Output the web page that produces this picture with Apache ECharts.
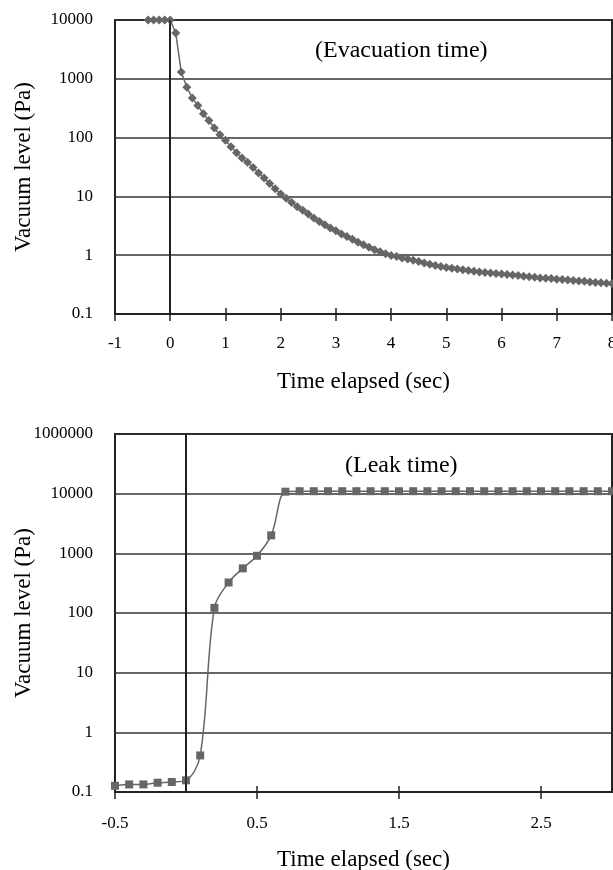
<!DOCTYPE html>
<html>
<head>
<meta charset="utf-8">
<script src="https://cdn.jsdelivr.net/npm/echarts@6/dist/echarts.min.js"></script>
<style>
html,body{margin:0;padding:0;background:#fff;}
#chart{width:613px;height:870px;}
</style>
</head>
<body>
<div id="chart"></div>
<script>
// ---- Data: evacuation (top chart) ----
const topTime = [-0.4,-0.3,-0.2,-0.1,0,
  0.1,0.2,0.3,0.4,0.5,0.6,0.7,0.8,0.9,1.0,
  1.1,1.2,1.3,1.4,1.5,1.6,1.7,1.8,1.9,2.0,
  2.1,2.2,2.3,2.4,2.5,2.6,2.7,2.8,2.9,3.0,
  3.1,3.2,3.3,3.4,3.5,3.6,3.7,3.8,3.9,4.0,
  4.1,4.2,4.3,4.4,4.5,4.6,4.7,4.8,4.9,5.0,
  5.1,5.2,5.3,5.4,5.5,5.6,5.7,5.8,5.9,6.0,
  6.1,6.2,6.3,6.4,6.5,6.6,6.7,6.8,6.9,7.0,
  7.1,7.2,7.3,7.4,7.5,7.6,7.7,7.8,7.9,8.0];
const topPressure = [10000,10000,10000,10000,10000,
  6000,1300,720,470,350,255,195,145,112,90,
  70,55,45,38,31,25,20.5,16.5,13.5,11.0,
  9.3,7.9,6.7,5.8,5.0,4.3,3.75,3.3,2.9,2.6,
  2.3,2.07,1.86,1.66,1.50,1.36,1.24,1.14,1.06,0.99,
  0.95,0.90,0.86,0.82,0.78,0.74,0.70,0.67,0.645,0.62,
  0.60,0.58,0.565,0.55,0.535,0.52,0.51,0.50,0.49,0.48,
  0.47,0.46,0.45,0.44,0.43,0.42,0.41,0.405,0.40,0.39,
  0.385,0.38,0.37,0.365,0.36,0.35,0.345,0.34,0.335,0.33];

// ---- Data: leak (bottom chart) ----
const botTime = [-0.5,-0.4,-0.3,-0.2,-0.1,0,0.1,0.2,0.3,0.4,0.5,0.6,0.7,
  0.8,0.9,1.0,1.1,1.2,1.3,1.4,1.5,1.6,1.7,1.8,1.9,2.0,
  2.1,2.2,2.3,2.4,2.5,2.6,2.7,2.8,2.9,3.0];
const botPressure = [0.127,0.134,0.134,0.143,0.147,0.157,0.41,122,325,560,910,2000,10800,
  11000,11000,11000,11000,11000,11000,11000,11000,11000,11000,11000,11000,11000,
  11000,11000,11000,11000,11000,11000,11000,11000,11000,11000];

// ---- Tick labels ----
const topXTicks = [-1,0,1,2,3,4,5,6,7,8];
const botXTicks = [-0.5,0.5,1.5,2.5];
const topYTicks = [0.1,1,10,100,1000,10000];
const topYLabels = ['0.1','1','10','100','1000','10000'];
const botYTicks = [0.1,1,10,100,1000,10000,100000];
const botYLabels = ['0.1','1','10','100','1000','10000','1000000'];

const xTitle = 'Time elapsed (sec)';
const yTitle = 'Vacuum level (Pa)';
const topNote = '(Evacuation time)';
const botNote = '(Leak time)';

const FONT = '"Liberation Serif", "DejaVu Serif", serif';
const GRAY = '#666666';
const DARK = '#222222';

function pairs(xs, ys){ return xs.map((x,i)=>[x, ys[i]]); }
function logLabel(ticks, labels){
  return function(v){
    for (let i=0;i<ticks.length;i++){
      if (Math.abs(Math.log10(v) - Math.log10(ticks[i])) < 1e-6) return labels[i];
    }
    return '';
  };
}

const chart = echarts.init(document.getElementById('chart'), null, {renderer:'canvas'});

const axisLabelStyle = {fontFamily: FONT, fontSize: 17, color: '#000'};
const nameStyle = {fontFamily: FONT, fontSize: 23, color: '#000'};

function xAxes(gridIndex, min, max, ticks, margin, gap){
  return [
    {
      type:'value', gridIndex, min, max, position:'bottom',
      axisLine:{show:true, onZero:false, lineStyle:{color:DARK, width:2}},
      axisTick:{show:true, inside:false, length:7, lineStyle:{color:DARK, width:1.5}, customValues: ticks},
      axisLabel:{...axisLabelStyle, margin:margin, customValues: ticks, formatter: v => String(v)},
      splitLine:{show:false},
      name: xTitle, nameLocation:'middle', nameGap: gap, nameTextStyle: nameStyle,
      nameMoveOverlap:false
    },
    {
      type:'value', gridIndex, min, max, position:'bottom', offset:0,
      axisLine:{show:false, onZero:false},
      axisTick:{show:true, inside:true, length:6, lineStyle:{color:DARK, width:1.5}, customValues: ticks},
      axisLabel:{show:false},
      splitLine:{show:false}
    }
  ];
}

function yAxis(gridIndex, min, max, ticks, labels){
  return {
    type:'log', logBase:10, gridIndex, min, max,
    axisLine:{show:true, lineStyle:{color:DARK, width:2}},
    axisTick:{show:false},
    axisLabel:{...axisLabelStyle, margin:22, formatter: logLabel(ticks, labels)},
    splitLine:{show:true, lineStyle:{color:'#333', width:1.5}},
    minorTick:{show:false}, minorSplitLine:{show:false},
    name: yTitle, nameLocation:'middle', nameGap: 80, nameTextStyle: nameStyle,
    nameMoveOverlap:false
  };
}

const zeroLine = {
  silent:true, symbol:['none','none'],
  label:{show:false},
  lineStyle:{color:DARK, width:1.5, type:'solid'},
  data:[{xAxis:0}]
};

chart.setOption({
  backgroundColor:'#fff',
  animation:false,
  grid:[
    {left:115, top:20, width:497, height:294, containLabel:false, outerBoundsMode:'none',
     show:true, borderColor:DARK, borderWidth:2, backgroundColor:'transparent'},
    {left:115, top:434, width:497, height:358, containLabel:false, outerBoundsMode:'none',
     show:true, borderColor:DARK, borderWidth:2, backgroundColor:'transparent'}
  ],
  xAxis: [
    ...xAxes(0, -1, 8, topXTicks, 21, 56),
    ...xAxes(1, -0.5, 3, botXTicks, 23, 56)
  ],
  yAxis: [
    yAxis(0, 0.1, 10000, topYTicks, topYLabels),
    yAxis(1, 0.1, 100000, botYTicks, botYLabels)
  ],
  series: [
    {
      type:'line', xAxisIndex:0, yAxisIndex:0,
      data: pairs(topTime, topPressure),
      symbol:'diamond', symbolSize:9, clip:false,
      lineStyle:{color:GRAY, width:1.5},
      itemStyle:{color:GRAY},
      markLine: zeroLine
    },
    {
      type:'line', xAxisIndex:2, yAxisIndex:1,
      data: pairs(botTime, botPressure),
      symbol:'rect', symbolSize:8, clip:false,
      smooth:0.35,
      lineStyle:{color:GRAY, width:1.5},
      itemStyle:{color:GRAY},
      markLine: zeroLine
    }
  ],
  graphic: [
    {type:'text', left:315, top:39, style:{text:topNote, font:'24px ' + FONT, fill:'#000'}},
    {type:'text', left:345, top:454, style:{text:botNote, font:'24px ' + FONT, fill:'#000'}}
  ]
});
</script>
</body>
</html>
